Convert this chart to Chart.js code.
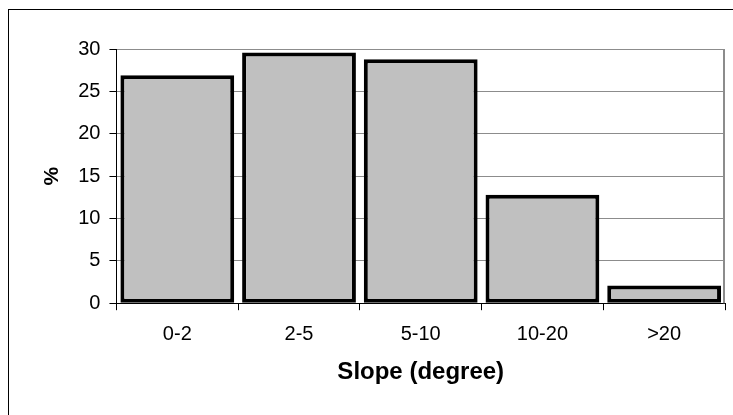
<!DOCTYPE html>
<html>
<head>
<meta charset="utf-8">
<script src="https://cdn.jsdelivr.net/npm/chart.js@4"></script>
<style>
  html, body { margin: 0; padding: 0; background: #fff; overflow: hidden; }
  #frame { position: absolute; left: 8px; top: 9px; width: 800px; height: 500px;
           border-left: 1px solid #000; border-top: 1px solid #000; box-sizing: border-box; }
  #wrap { position: absolute; left: 0; top: 0; width: 733px; height: 415px; }
</style>
</head>
<body>
<div id="frame"></div>
<div id="wrap"><canvas id="c" width="733" height="415"></canvas></div>
<script>
const categories = ["0-2", "2-5", "5-10", "10-20", ">20"];
const percentValues = [26.9, 29.6, 28.8, 12.8, 2.1];
const yTicks = [0, 5, 10, 15, 20, 25, 30];
const xTitle = "Slope (degree)";
const yTitle = "%";

const plotFrame = {
  id: 'plotFrame',
  afterDraw(chart) {
    const {ctx, chartArea} = chart;
    ctx.save();
    ctx.strokeStyle = '#8c8c8c';
    ctx.lineWidth = 2;
    ctx.beginPath();
    ctx.moveTo(chartArea.right - 1, chartArea.top);
    ctx.lineTo(chartArea.right - 1, chartArea.bottom);
    ctx.stroke();
    ctx.restore();
  }
};

new Chart(document.getElementById('c'), {
  type: 'bar',
  data: {
    labels: categories,
    datasets: [{
      data: percentValues,
      backgroundColor: '#c0c0c0',
      borderColor: '#000000',
      borderWidth: 4,
      borderSkipped: false,
      barPercentage: 0.935,
      categoryPercentage: 1.0
    }]
  },
  options: {
    responsive: false,
    animation: false,
    devicePixelRatio: 1,
    plugins: { legend: { display: false }, tooltip: { enabled: false } },
    layout: { padding: { left: 30, top: 49, right: 8, bottom: 28 } },
    scales: {
      x: {
        offset: true,
        grid: { display: true, drawOnChartArea: false, offset: true, color: '#000', tickLength: 7, lineWidth: 1 },
        border: { display: true, color: '#000', width: 1 },
        ticks: { color: '#000', padding: 12, font: { family: 'Liberation Sans', size: 20 } },
        title: { display: true, text: xTitle, color: '#000', padding: { top: 0, bottom: 0 },
                 font: { family: 'Liberation Sans', size: 24, weight: 'bold' } }
      },
      y: {
        min: 0, max: 30,
        afterBuildTicks(axis) { axis.ticks = yTicks.map(v => ({ value: v })); },
        grid: { color: '#8c8c8c', tickColor: '#000', tickLength: 7, lineWidth: 1 },
        border: { display: true, color: '#000', width: 1 },
        ticks: { color: '#000', padding: 9, font: { family: 'Liberation Sans', size: 20 } },
        title: { display: true, text: yTitle, color: '#000', padding: { top: 10, bottom: 4 },
                 font: { family: 'Liberation Sans', size: 21, weight: 'bold' } }
      }
    }
  },
  plugins: [plotFrame]
});
</script>
</body>
</html>
